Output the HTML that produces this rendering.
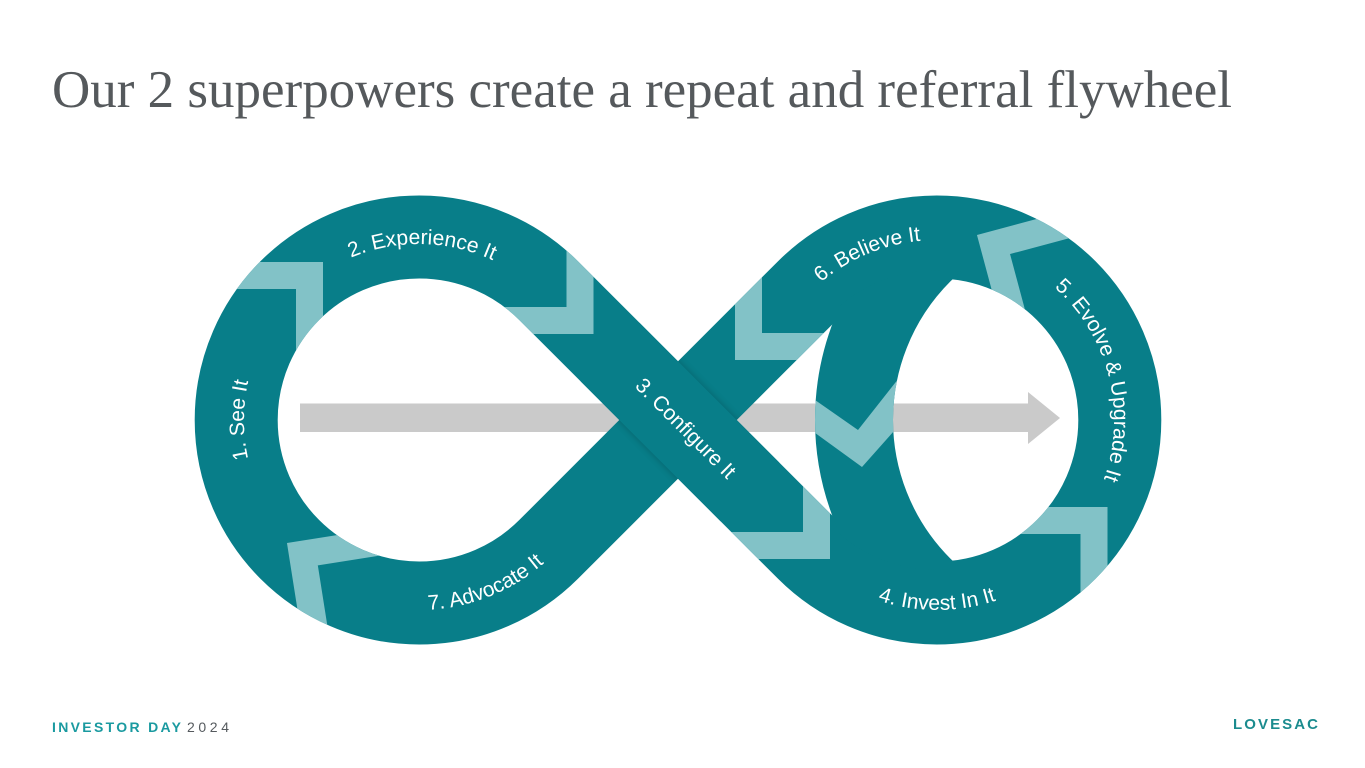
<!DOCTYPE html>
<html>
<head>
<meta charset="utf-8">
<style>
  html,body{margin:0;padding:0;background:#fff;}
  body{width:1365px;height:768px;overflow:hidden;}
  svg{display:block;}
</style>
</head>
<body>
<svg width="1365" height="768" viewBox="0 0 1365 768" xmlns="http://www.w3.org/2000/svg">
  <defs>
    <mask id="mLoop" maskUnits="userSpaceOnUse" x="0" y="0" width="1365" height="768">
      <path d="M678,420 L548.6,290.6 A183,183 0 1 0 548.6,549.4 L678,420 M678,420 L807.4,290.6 A183,183 0 1 1 807.4,549.4 L678,420" fill="none" stroke="#fff" stroke-width="83"/>
    </mask>
    <mask id="mMid" maskUnits="userSpaceOnUse" x="0" y="0" width="1365" height="768">
      <circle cx="1089" cy="420" r="235" fill="none" stroke="#fff" stroke-width="78"/>
    </mask>
    <clipPath id="cR"><circle cx="937" cy="420" r="150"/></clipPath>
    <clipPath id="cUnder"><polygon points="519.3,520.1 778.3,261.3 836.9,319.9 577.9,578.7"/></clipPath>
    <filter id="blur" filterUnits="userSpaceOnUse" x="0" y="0" width="1365" height="768">
      <feGaussianBlur stdDeviation="4"/>
    </filter>
    <path id="tExp" d="M266.6,332 A176,176 0 0 1 574.4,337.4"/>
    <path id="tSee" d="M331.5,571.6 A175,175 0 0 1 331.5,268.4"/>
    <path id="tAdv" d="M302,569.7 A190,190 0 0 0 607.2,446.4"/>
    <path id="tBel" d="M758.5,397.1 A180,180 0 0 1 1046.1,276.8"/>
    <path id="tEvo" d="M984.3,249.4 A177,177 0 0 1 1061.1,546.3"/>
    <path id="tInv" d="M772.5,515 A190,190 0 0 0 1101.5,515"/>
  </defs>

  <!-- Title -->
  <text x="52" y="107" font-family="'Liberation Serif', serif" font-size="53" fill="#55595c" textLength="1180" lengthAdjust="spacing">Our 2 superpowers create a repeat and referral flywheel</text>

  <!-- Grey arrow -->
  <rect x="300" y="403.5" width="730" height="28.5" fill="#cacaca"/>
  <polygon points="1028,392 1060,418 1028,444" fill="#cacaca"/>

  <!-- Loops -->
  <path d="M678,420 L548.6,290.6 A183,183 0 1 0 548.6,549.4 L678,420 M678,420 L807.4,290.6 A183,183 0 1 1 807.4,549.4 L678,420" fill="none" stroke="#087e89" stroke-width="83"/>

  <!-- Middle band -->
  <circle cx="1089" cy="420" r="235" fill="none" stroke="#087e89" stroke-width="78" clip-path="url(#cR)"/>
  <g mask="url(#mMid)">
    <polygon points="800,389.5 858,430 910,364 910,413 862,467 800,422" fill="#82c2c7"/>
  </g>

  <!-- Shadow under Configure band -->
  <g clip-path="url(#cUnder)">
    <path d="M600,342 L760,502" stroke="#000" stroke-width="83" opacity="0.22" filter="url(#blur)" fill="none"/>
  </g>

  <!-- Configure band on top -->
  <path d="M610,352 L750,492" stroke="#087e89" stroke-width="83" fill="none"/>

  <!-- Chevrons -->
  <g mask="url(#mLoop)" fill="none" stroke="#82c2c7" stroke-width="27" stroke-linejoin="miter" stroke-miterlimit="10">
    <polyline points="200,275.5 309.5,275.5 309.5,380"/>
    <polyline points="580,200 580,320.5 470,320.5"/>
    <polyline points="401.2,538.6 302.4,554.2 318,653"/>
    <polyline points="816.5,420 816.5,545.5 720,545.5"/>
    <polyline points="980,520.5 1094,520.5 1094,650"/>
    <polyline points="1109.4,213.4 993.5,244.5 1024.6,360.4"/>
    <polyline points="748.5,240 748.5,346.5 840,346.5"/>
  </g>

  <!-- Labels -->
  <g font-family="'Liberation Sans', sans-serif" font-size="21" fill="#ffffff">
    <text><textPath href="#tExp" startOffset="50%" text-anchor="middle">2. Experience It</textPath></text>
    <text><textPath href="#tSee" startOffset="50%" text-anchor="middle">1. See It</textPath></text>
    <text><textPath href="#tAdv" startOffset="50%" text-anchor="middle">7. Advocate It</textPath></text>
    <text><textPath href="#tBel" startOffset="50%" text-anchor="middle">6. Believe It</textPath></text>
    <text><textPath href="#tEvo" startOffset="50%" text-anchor="middle">5. Evolve &amp; Upgrade It</textPath></text>
    <text><textPath href="#tInv" startOffset="50%" text-anchor="middle">4. Invest In It</textPath></text>
    <text transform="translate(680.7,433.3) rotate(45)" text-anchor="middle">3. Configure It</text>
  </g>

  <!-- Footer -->
  <text x="52" y="732" font-family="'Liberation Sans', sans-serif" font-size="14" font-weight="bold" fill="#1a9aa0" textLength="129" lengthAdjust="spacing">INVESTOR DAY</text>
  <text x="187" y="732" font-family="'Liberation Sans', sans-serif" font-size="14" fill="#555a5e" textLength="42" lengthAdjust="spacing">2024</text>
  <text x="1233" y="729" font-family="'Liberation Sans', sans-serif" font-size="15" font-weight="bold" fill="#1b8b8e" textLength="85" lengthAdjust="spacing">LOVESAC</text>
</svg>
</body>
</html>
